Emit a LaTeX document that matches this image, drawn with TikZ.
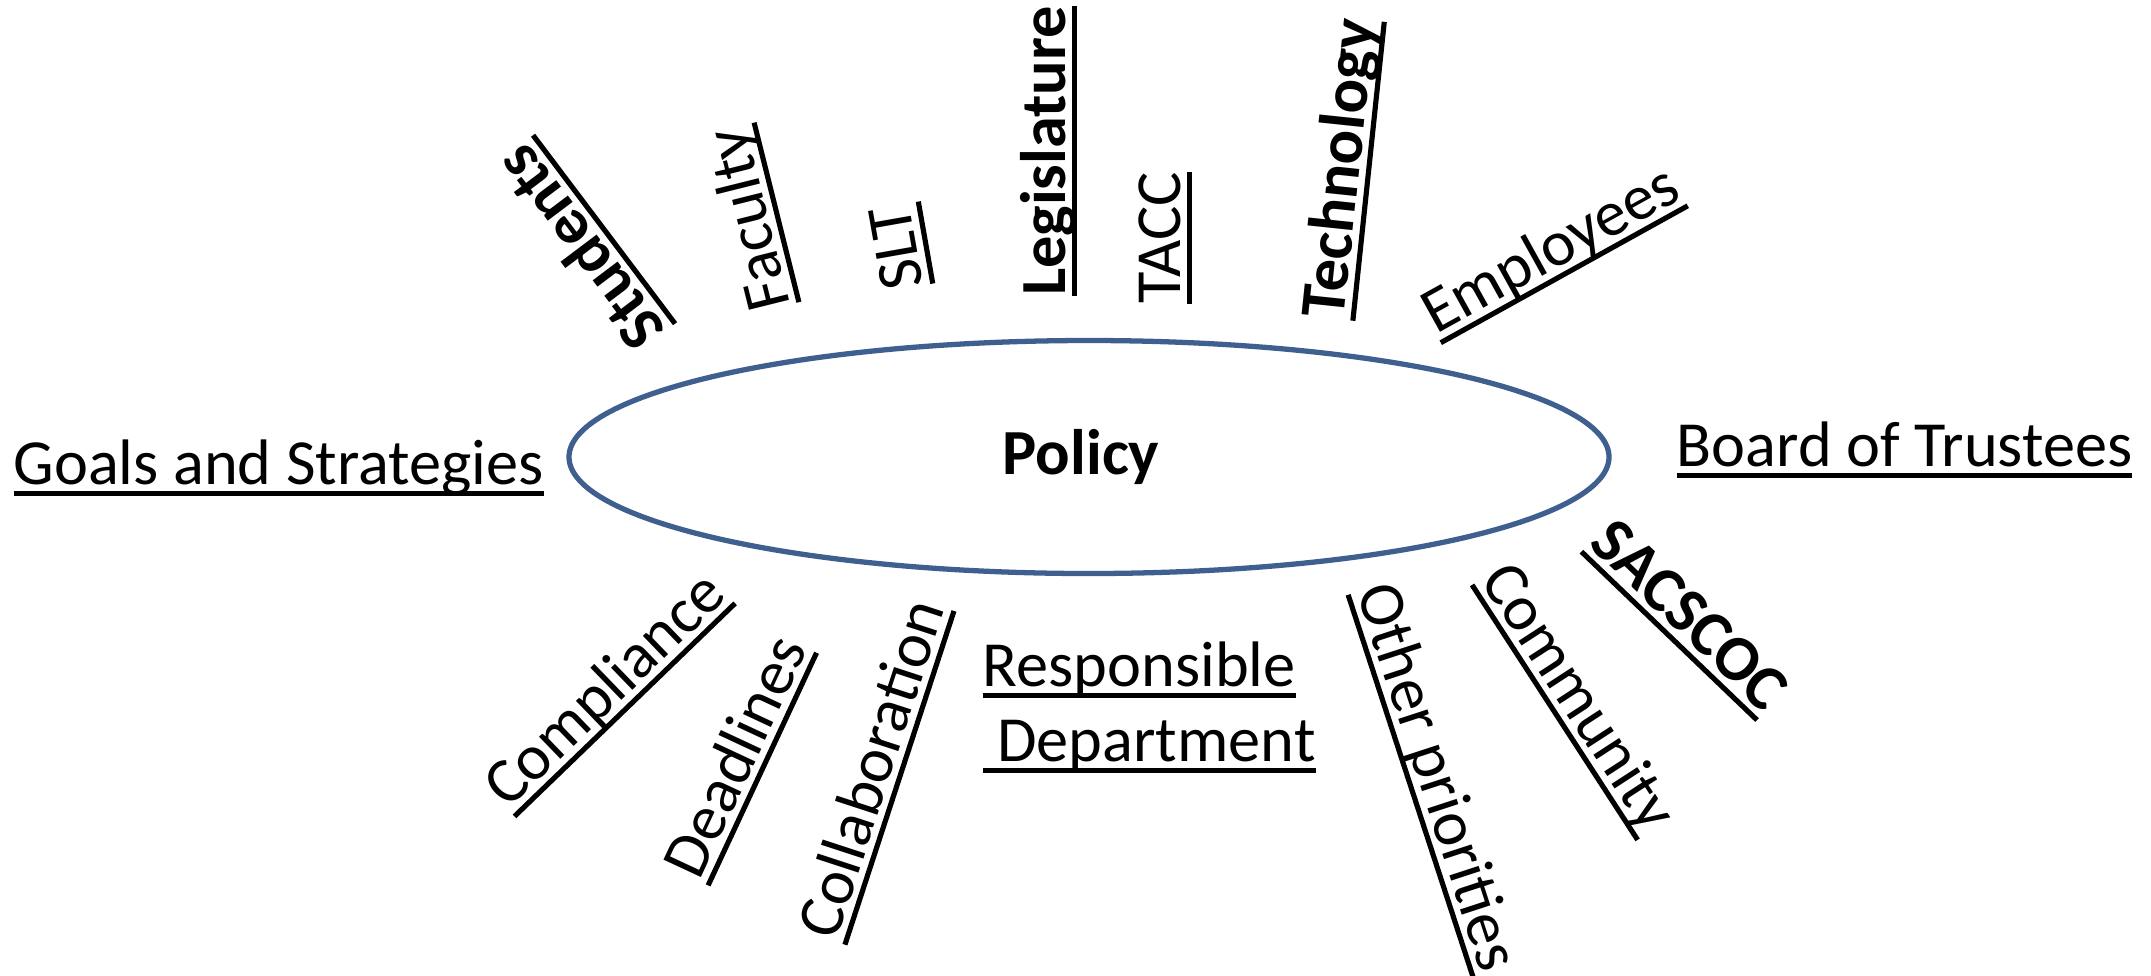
\documentclass[tikz,border=0pt]{standalone}
\usepackage{fontspec}
\setmainfont{Carlito}
\usetikzlibrary{shapes.geometric}
\definecolor{policyblue}{HTML}{3F5F8F}
\newsavebox\ulbox
\newcommand\undertext[1]{\sbox\ulbox{#1}\rlap{\vrule height 0pt depth 0.08em width \wd\ulbox}\raise0.1em\copy\ulbox}
\tikzset{
	factor/.style={inner sep=0pt, anchor=base, font=\fontsize{18.3}{22}\selectfont},
	boldfactor/.style={factor, font=\fontsize{18.3}{22}\selectfont\bfseries},
	hub/.style={ellipse, draw=policyblue, line width=1.5pt, minimum width=10.4cm, minimum height=2.33cm},
}

\begin{document}
\begin{tikzpicture}
		\useasboundingbox (0,0) rectangle (21.51,-9.75);

		\node[hub] (policy) at (10.89, -4.57) {};
		\node[boldfactor, anchor=center] (policytext) at ([xshift=-0.08cm]policy.center) {Policy};

		\node[factor, anchor=base west] (goals) at (0.13, -4.91) {\undertext{Goals and Strategies}};
		\node[factor, anchor=base west] (board) at (16.76, -4.73) {\undertext{Board of Trustees}};
		\node[factor, anchor=base west] (resp) at (9.82, -6.93) {\undertext{Responsible}};
		\node[factor, anchor=base west] (dept) at ([yshift=-0.75cm]resp.base west) {\undertext{\ Department}};

		% above the ellipse
		\node[boldfactor, rotate=127] (students) at (6.02, -2.31) {\undertext{Students}};
		\node[factor, rotate=104] (faculty) at (7.74, -2.13) {\undertext{Faculty}};
		\node[factor, rotate=100] (slt) at (9.23, -2.43) {\undertext{SLT}};
		\node[boldfactor, rotate=90] (legis) at (10.72, -1.51) {\undertext{Legislature}};
		\node[factor, rotate=90] (tacc) at (11.87, -2.38) {\undertext{TACC}};
		\node[boldfactor, rotate=84] (tech) at (13.66, -1.71) {\undertext{Technology}};
		\node[factor, rotate=29] (employees) at (15.63, -2.72) {\undertext{Employees}};

		% below the ellipse
		\node[factor, rotate=44] (compliance) at (6.23, -7.08) {\undertext{Compliance}};
		\node[factor, rotate=65] (deadlines) at (7.6, -7.68) {\undertext{Deadlines}};
		\node[factor, rotate=71.9] (collab) at (8.97, -7.77) {\undertext{Collaboration}};
		\node[factor, rotate=-71.9] (other) at (14.13, -7.85) {\undertext{Other priorities}};
		\node[factor, rotate=-57] (community) at (15.57, -7.11) {\undertext{Community}};
		\node[boldfactor, rotate=-43.8] (sacscoc) at (16.71, -6.34) {\undertext{SACSCOC}};
	\end{tikzpicture}
\end{document}
